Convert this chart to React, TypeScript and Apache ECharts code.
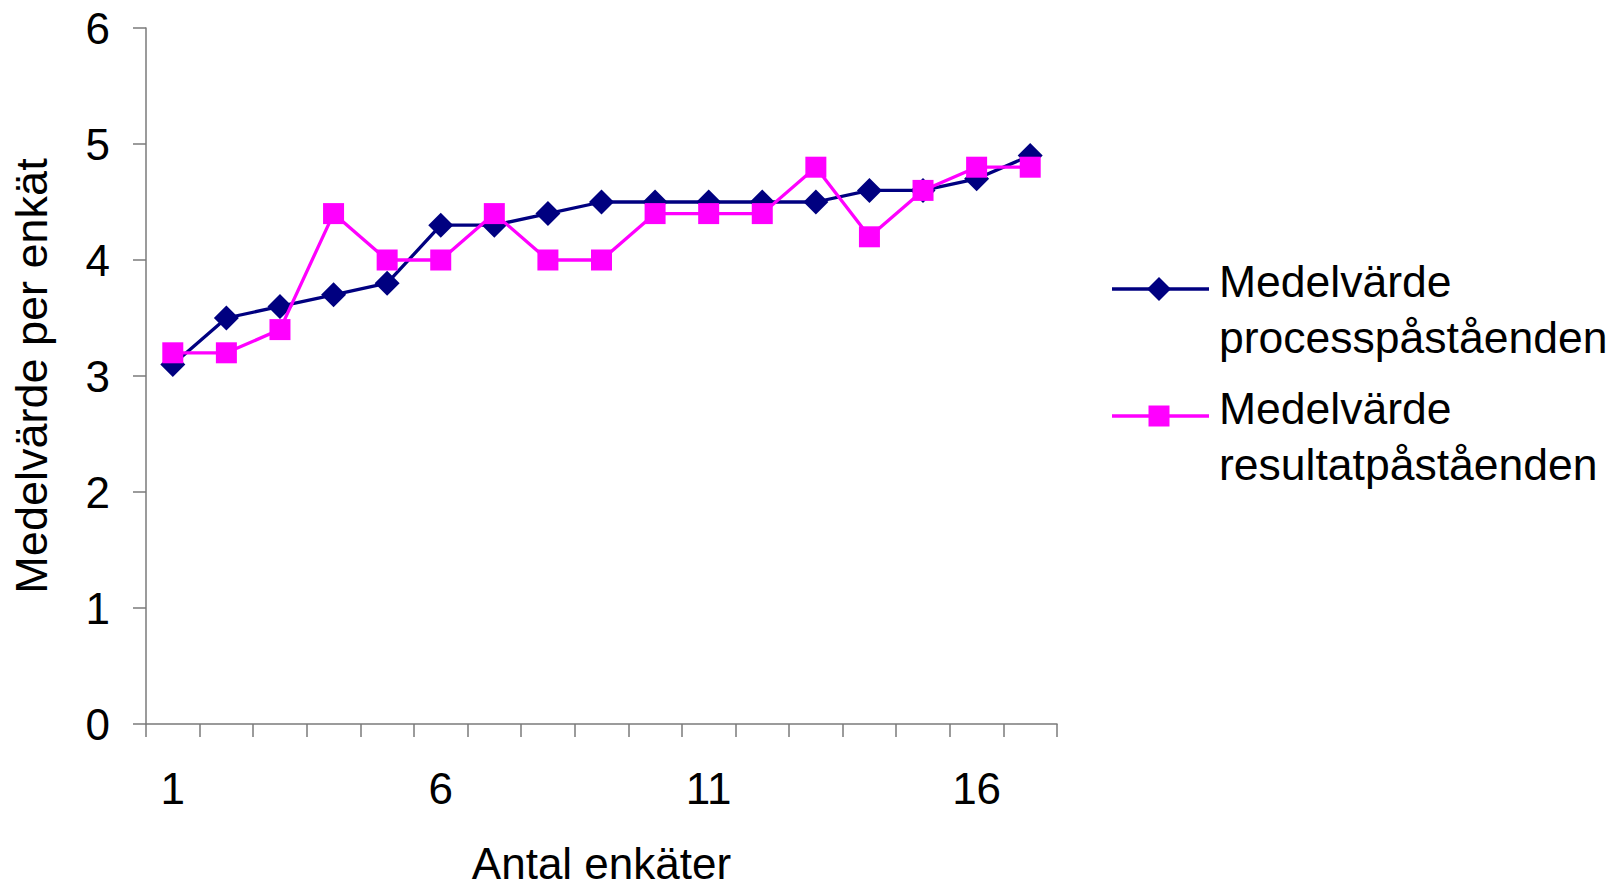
import React, { useEffect, useRef } from "react";
import * as echarts from "echarts";

const categories = ["1", "2", "3", "4", "5", "6", "7", "8", "9", "10", "11", "12", "13", "14", "15", "16", "17"];
const processValues = [3.1, 3.5, 3.6, 3.7, 3.8, 4.3, 4.3, 4.4, 4.5, 4.5, 4.5, 4.5, 4.5, 4.6, 4.6, 4.7, 4.9];
const resultValues = [3.2, 3.2, 3.4, 4.4, 4.0, 4.0, 4.4, 4.0, 4.0, 4.4, 4.4, 4.4, 4.8, 4.2, 4.6, 4.8, 4.8];
const seriesNames = ["Medelvärde processpåståenden", "Medelvärde resultatpåståenden"];
const legendLabels = ["Medelvärde\nprocesspåståenden", "Medelvärde\nresultatpåståenden"];
const yMin = 0;
const yMax = 6;
const yInterval = 1;
const xTitle = "Antal enkäter";
const yTitle = "Medelvärde per enkät";

const NAVY = "#000080";
const MAGENTA = "#FF00FF";
const AXIS = "#7a7a7a";
const FONT = "'Liberation Sans', Arial, sans-serif";

export default function App() {
  const ref = useRef<HTMLDivElement>(null);
  useEffect(() => {
    if (!ref.current) return;
    const chart = echarts.init(ref.current, undefined, { renderer: "svg" });
    const legendItem = (i: number, y: number, color: string, marker: any) => ({
      type: "group",
      children: [
        { type: "line", shape: { x1: 1112, y1: y, x2: 1209, y2: y }, style: { stroke: color, lineWidth: 3.3 } },
        marker,
        {
          type: "text",
          x: 1219,
          y: y - 36,
          style: {
            text: legendLabels[i],
            fontFamily: FONT,
            fontSize: 44.5,
            lineHeight: 56,
            fill: "#000",
            verticalAlign: "top",
            align: "left",
          },
        },
      ],
    });
    chart.setOption({
      animation: false,
      backgroundColor: "#fff",
      grid: {
        left: 146,
        right: 566,
        top: 28,
        bottom: 165,
        containLabel: false,
        outerBoundsMode: "none",
      },
      legend: { show: false },
      xAxis: {
        type: "category",
        data: categories,
        boundaryGap: true,
        name: xTitle,
        nameLocation: "middle",
        nameGap: 121,
        nameTextStyle: { fontFamily: FONT, fontSize: 44, lineHeight: 36, color: "#000" },
        axisLine: { show: true, lineStyle: { color: AXIS, width: 1.5 } },
        axisTick: { show: true, interval: 0, length: 13, lineStyle: { color: AXIS, width: 1.5 } },
        axisLabel: { interval: 4, margin: 42, fontFamily: FONT, fontSize: 44, color: "#000" },
        splitLine: { show: false },
      },
      yAxis: {
        type: "value",
        min: yMin,
        max: yMax,
        interval: yInterval,
        name: yTitle,
        nameLocation: "middle",
        nameGap: 92,
        nameTextStyle: { fontFamily: FONT, fontSize: 45, color: "#000" },
        axisLine: { show: true, lineStyle: { color: AXIS, width: 1.5 } },
        axisTick: { show: true, length: 13, lineStyle: { color: AXIS, width: 1.5 } },
        axisLabel: { margin: 36, fontFamily: FONT, fontSize: 44, color: "#000" },
        splitLine: { show: false },
      },
      series: [
        {
          name: seriesNames[0],
          type: "line",
          data: processValues,
          symbol: "diamond",
          symbolSize: 25,
          lineStyle: { color: NAVY, width: 3.3 },
          itemStyle: { color: NAVY },
          z: 2,
        },
        {
          name: seriesNames[1],
          type: "line",
          data: resultValues,
          symbol: "rect",
          symbolSize: 21,
          lineStyle: { color: MAGENTA, width: 3.3 },
          itemStyle: { color: MAGENTA },
          z: 3,
        },
      ],
      graphic: [
        legendItem(0, 289, NAVY, {
          type: "polygon",
          shape: { points: [[1159, 277], [1171, 289], [1159, 301], [1147, 289]] },
          style: { fill: NAVY },
        }),
        legendItem(1, 416, MAGENTA, {
          type: "rect",
          shape: { x: 1148.5, y: 405.5, width: 21, height: 21 },
          style: { fill: MAGENTA },
        }),
      ],
    });
    return () => chart.dispose();
  }, []);
  return (
    <div
      ref={ref}
      style={{ position: "absolute", left: 0, top: 0, width: 1623, height: 889, background: "#fff" }}
    />
  );
}
